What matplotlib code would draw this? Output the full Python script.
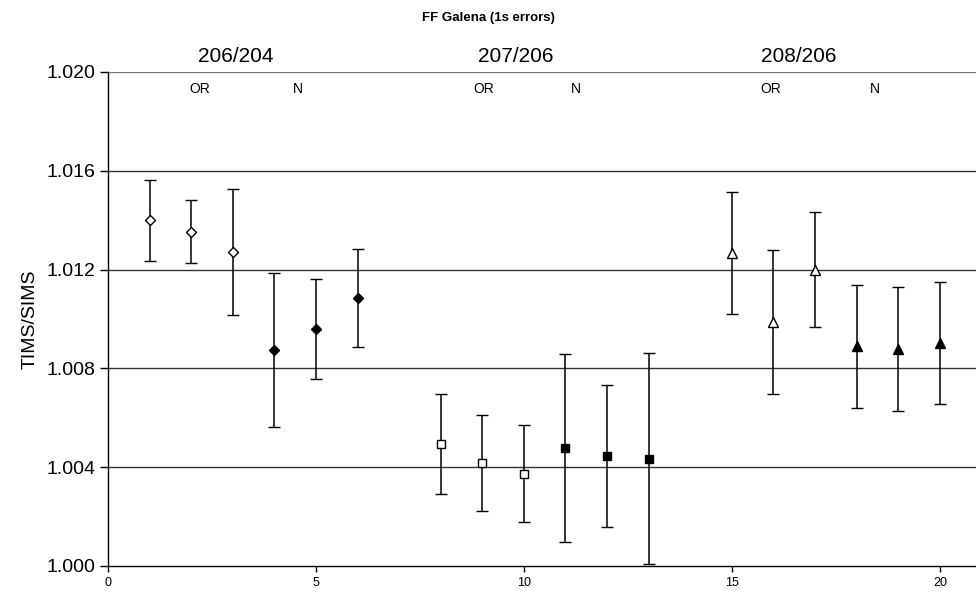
import matplotlib
matplotlib.use("Agg")
import matplotlib.pyplot as plt
from matplotlib.transforms import blended_transform_factory

plt.rcParams['font.family'] = ['Liberation Sans', 'DejaVu Sans']

# Pb isotope ratios: TIMS/SIMS with 1s errors
x_206_204_or = [1, 2, 3]
y_206_204_or = [1.01400, 1.01354, 1.01271]
e_206_204_or = [0.00164, 0.00129, 0.00255]

x_206_204_n = [4, 5, 6]
y_206_204_n = [1.00873, 1.00961, 1.01085]
e_206_204_n = [0.00312, 0.00202, 0.00200]

x_207_206_or = [8, 9, 10]
y_207_206_or = [1.00494, 1.00417, 1.00374]
e_207_206_or = [0.00204, 0.00196, 0.00195]

x_207_206_n = [11, 12, 13]
y_207_206_n = [1.00478, 1.00446, 1.00435]
e_207_206_n = [0.00379, 0.00288, 0.00426]

x_208_206_or = [15, 16, 17]
y_208_206_or = [1.01267, 1.00988, 1.01200]
e_208_206_or = [0.00246, 0.00291, 0.00233]

x_208_206_n = [18, 19, 20]
y_208_206_n = [1.00889, 1.00878, 1.00903]
e_208_206_n = [0.00249, 0.00250, 0.00247]

ratio_labels = ["206/204", "207/206", "208/206"]
ratio_label_x = [3.08, 9.8, 16.6]
sub_labels = ["OR", "N", "OR", "N", "OR", "N"]
sub_label_x = [2.21, 4.57, 9.04, 11.25, 15.94, 18.44]

x_ticks = [0, 5, 10, 15, 20]
y_ticks = [1.000, 1.004, 1.008, 1.012, 1.016, 1.020]

fig = plt.figure(figsize=(9.76, 5.93), dpi=100)
ax = fig.add_axes([108 / 976, 1 - 566 / 593, 1 - 108 / 976, (566 - 72) / 593])

series = [
    (x_206_204_or, y_206_204_or, e_206_204_or, 'D', 'white', 5.0),
    (x_206_204_n, y_206_204_n, e_206_204_n, 'D', 'black', 5.0),
    (x_207_206_or, y_207_206_or, e_207_206_or, 's', 'white', 6.0),
    (x_207_206_n, y_207_206_n, e_207_206_n, 's', 'black', 6.0),
    (x_208_206_or, y_208_206_or, e_208_206_or, '^', 'white', 6.5),
    (x_208_206_n, y_208_206_n, e_208_206_n, '^', 'black', 6.5),
]
for xs, ys, es, mk, fc, ms in series:
    ax.errorbar(xs, ys, yerr=es, fmt=mk, mfc=fc, mec='black', mew=1.0,
                ms=ms, ecolor='black', elinewidth=1.1, capsize=4, capthick=1.1,
                zorder=3)

ax.set_xlim(0, 20.87)
ax.set_ylim(1.000, 1.020)
ax.set_xticks(x_ticks)
ax.set_xticklabels([str(t) for t in x_ticks], fontsize=9)
ax.set_yticks(y_ticks)
ax.set_yticklabels([f"{t:.3f}" for t in y_ticks], fontsize=14)
ax.tick_params(axis='y', direction='out', length=6, width=1, pad=3)
ax.tick_params(axis='x', direction='out', length=4, width=1, pad=4)

for t in y_ticks[1:]:
    ax.axhline(t, color='#333333' if t < 1.020 else '#777777', lw=1.0, zorder=1)

ax.spines['top'].set_visible(False)
ax.spines['right'].set_visible(False)
ax.spines['left'].set_linewidth(1.0)
ax.spines['bottom'].set_linewidth(1.0)

ax.set_ylabel("TIMS/SIMS", fontsize=14, labelpad=6)

trans = blended_transform_factory(ax.transData, fig.transFigure)
for lbl, xp in zip(ratio_labels, ratio_label_x):
    ax.text(xp, 1 - 57 / 593, lbl, transform=trans, ha='center', va='center',
            fontsize=15)
for lbl, xp in zip(sub_labels, sub_label_x):
    ax.text(xp, 1 - 89 / 593, lbl, transform=trans, ha='center', va='center',
            fontsize=10)

fig.text(0.5, 1 - 18 / 593, "FF Galena (1s errors)", ha='center', va='center',
         fontsize=9.5, fontweight='bold')

fig.savefig("out.png", dpi=100)
